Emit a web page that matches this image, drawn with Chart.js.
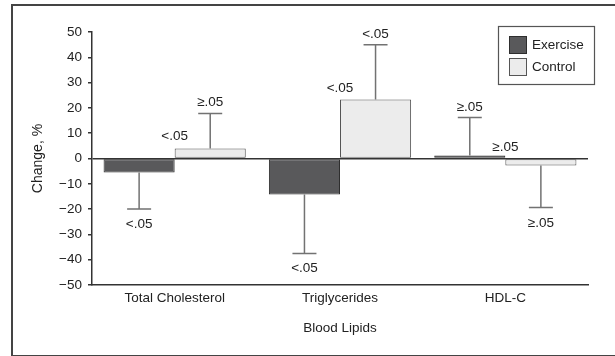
<!DOCTYPE html>
<html>
<head>
<meta charset="utf-8">
<script src="https://cdn.jsdelivr.net/npm/chart.js@4.4.1/dist/chart.umd.min.js"></script>
<style>
  html, body { margin: 0; padding: 0; background: #fff; }
  #wrap { position: relative; width: 615px; height: 356px; overflow: hidden; }
  #frame { position: absolute; left: 11px; top: 4px; width: 700px; height: 349px; border: 2px solid #444; pointer-events: none; }
</style>
</head>
<body>
<div id="wrap">
  <canvas id="lipidChart" width="615" height="356"></canvas>
  <div id="frame"></div>
</div>
<script>
// ── Data ──
const categories = ['Total Cholesterol', 'Triglycerides', 'HDL-C'];
const seriesNames = ['Exercise', 'Control'];
const exerciseChange = [-5.5, -14.2, 1.2];
const controlChange = [4, 23.3, -2.8];
// where the error whisker ends
const exerciseErrEnd = [-20, -37.5, 16.2];
const controlErrEnd = [17.8, 45, -19.4];
// p values printed at whisker tips and at control bar ends
const exerciseTipP = ['<.05', '<.05', '≥.05'];
const controlTipP = ['≥.05', '<.05', '≥.05'];
const controlBarP = ['<.05', '<.05', '≥.05'];
const yMin = -50, yMax = 50, yStep = 10;

const FONT = "'Liberation Sans', Arial, sans-serif";
const exColor = '#59595b', exBorder = '#2e2e2e';
const ctColor = '#ececec', ctBorder = '#555';
const errColor = '#727272';

// error bars + p labels + boxed legend
const annotate = {
  id: 'annotate',
  afterDatasetsDraw(chart) {
    const ctx = chart.ctx;
    const y = chart.scales.y;
    const ends = [exerciseErrEnd, controlErrEnd];
    const tips = [exerciseTipP, controlTipP];
    const vals = [exerciseChange, controlChange];
    ctx.save();
    ctx.font = '13.5px ' + FONT;
    ctx.textAlign = 'center';
    ctx.textBaseline = 'alphabetic';
    for (let d = 0; d < 2; d++) {
      const meta = chart.getDatasetMeta(d);
      meta.data.forEach((bar, i) => {
        const x = bar.x;
        const y0 = y.getPixelForValue(vals[d][i]);
        const y1 = y.getPixelForValue(ends[d][i]);
        ctx.strokeStyle = errColor;
        ctx.lineWidth = 1.5;
        ctx.beginPath();
        ctx.moveTo(x, y0); ctx.lineTo(x, y1);
        ctx.moveTo(x - 12, y1); ctx.lineTo(x + 12, y1);
        ctx.stroke();
        ctx.fillStyle = '#222';
        const up = ends[d][i] > vals[d][i];
        ctx.fillText(tips[d][i], x, up ? y1 - 7 : y1 + 19);
      });
    }
    // control bar p values, centred on the bar's left edge
    const cMeta = chart.getDatasetMeta(1);
    cMeta.data.forEach((bar, i) => {
      const left = bar.x - bar.width / 2;
      const top = y.getPixelForValue(Math.max(controlChange[i], 0));
      ctx.fillText(controlBarP[i], left, top - 8);
    });

    // legend box
    const bx = 498, by = 26, bw = 96, bh = 58;
    ctx.strokeStyle = '#555';
    ctx.lineWidth = 1.2;
    ctx.strokeRect(bx + 0.5, by + 0.5, bw, bh);
    const fills = [exColor, ctColor], borders = [exBorder, ctBorder];
    ctx.textAlign = 'left';
    ctx.textBaseline = 'middle';
    seriesNames.forEach((name, k) => {
      const sy = by + 10 + k * 22;
      ctx.fillStyle = fills[k];
      ctx.fillRect(509, sy, 17, 17);
      ctx.strokeStyle = borders[k];
      ctx.lineWidth = 1;
      ctx.strokeRect(509.5, sy + 0.5, 17, 17);
      ctx.fillStyle = '#222';
      ctx.fillText(name, 532, sy + 9);
    });
    ctx.restore();
  }
};

new Chart(document.getElementById('lipidChart'), {
  type: 'bar',
  data: {
    labels: categories,
    datasets: [
      { label: seriesNames[0], data: exerciseChange, backgroundColor: exColor, borderColor: exBorder, borderWidth: 1, borderSkipped: false },
      { label: seriesNames[1], data: controlChange, backgroundColor: ctColor, borderColor: ctBorder, borderWidth: 1, borderSkipped: false }
    ]
  },
  options: {
    responsive: false,
    animation: false,
    layout: { padding: { left: 0, right: 27, top: 32, bottom: 0 } },
    datasets: { bar: { categoryPercentage: 0.86, barPercentage: 1.0 } },
    plugins: { legend: { display: false }, tooltip: { enabled: false } },
    scales: {
      x: {
        grid: { display: false, drawTicks: false },
        border: { display: true, color: '#333', width: 1.5 },
        ticks: { color: '#222', padding: 5, font: { family: FONT, size: 13.5 } },
        title: { display: true, text: 'Blood Lipids', color: '#222', padding: { top: 0, bottom: 20 }, font: { family: FONT, size: 13.5 } },
        afterFit(s) { s.height = 71; }
      },
      y: {
        min: yMin, max: yMax,
        grid: {
          drawOnChartArea: true,
          color: c => (c.tick && c.tick.value === 0 ? '#333' : 'transparent'),
          lineWidth: 1.5,
          tickColor: '#333',
          tickLength: 4
        },
        border: { display: true, color: '#333', width: 1.5 },
        ticks: {
          stepSize: yStep, color: '#222', padding: 6,
          font: { family: FONT, size: 13.5 },
          callback: v => (v < 0 ? '\u2212' + Math.abs(v) : String(v))
        },
        title: { display: true, text: 'Change, %', color: '#222', padding: { top: 30, bottom: 0 }, font: { family: FONT, size: 14 } },
        afterFit(s) { s.width = 92; }
      }
    }
  },
  plugins: [annotate]
});
</script>
</body>
</html>
